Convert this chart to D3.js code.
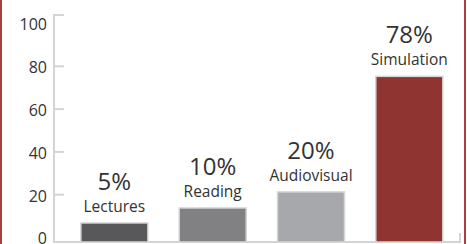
<!DOCTYPE html>
<html lang="en">
<head>
  <meta charset="UTF-8">
  <title>Learning retention</title>
  <style>
    body {
      margin: 0;
      background-color: white;
      font-family: "Open Sans", Arial, sans-serif;
    }

    .axis-line {
      stroke: #d4d4d4;
      stroke-width: 2;
      fill: none;
    }

    .tick-label {
      font-size: 16px;
      fill: #333;
      text-anchor: end;
    }

    .bar {
      stroke: #d6d6d6;
      stroke-width: 1.5;
    }

    .pct {
      font-size: 24px;
      fill: #333;
      text-anchor: middle;
    }

    .cat {
      font-size: 15.5px;
      fill: #333;
      text-anchor: middle;
    }
  </style>
</head>
<body>
  <svg id="chart" width="467" height="244"></svg>

  <script src="https://d3js.org/d3.v7.min.js"></script>
  <script>
    var categories = ["Lectures", "Reading", "Audiovisual", "Simulation"];
    var percentLabels = ["5%", "10%", "20%", "78%"];
    // bar heights as drawn in the picture (not to the printed percentages)
    var barValues = [7.5, 14.5, 22, 76];
    var barColors = ["#58585a", "#818184", "#a7a8ab", "#8f3431"];
    var tickValues = [0, 20, 40, 60, 80, 100];

    var chart = d3.select("#chart");

    var axisX = 54;
    var baseY = 242;

    var y = d3.scaleLinear()
      .domain([0, 100])
      .range([239, 25]);

    var x = d3.scaleBand()
      .domain(categories)
      .range([axisX, 460])
      .paddingInner(0.318)
      .paddingOuter(0.224)
      .align(0.61);

    // red frame at the sides
    chart.append("rect")
      .attr("x", 0).attr("y", -5)
      .attr("width", 2).attr("height", 254)
      .attr("fill", "#a8403d");
    chart.append("rect")
      .attr("x", 464).attr("y", -5)
      .attr("width", 2).attr("height", 254)
      .attr("fill", "#a8403d");

    // axis frame: left line with top cap, baseline, right end tick
    chart.append("path")
      .attr("class", "axis-line")
      .attr("d", "M" + (axisX + 10) + ",15H" + axisX + "V" + baseY + "H460V233");

    chart.selectAll(".tick-line")
      .data(tickValues.filter(function(d) { return d > 0 && d < 100; }))
      .enter().append("line")
      .attr("class", "axis-line")
      .attr("x1", axisX)
      .attr("x2", axisX + 10)
      .attr("y1", function(d) { return y(d) - 1.5; })
      .attr("y2", function(d) { return y(d) - 1.5; });

    chart.selectAll(".tick-label")
      .data(tickValues)
      .enter().append("text")
      .attr("class", "tick-label")
      .attr("x", 47)
      .attr("y", function(d) { return y(d); })
      .attr("dy", "0.34em")
      .text(function(d) { return d; });

    chart.selectAll(".bar")
      .data(barValues)
      .enter().append("rect")
      .attr("class", "bar")
      .attr("x", function(d, i) { return x(categories[i]); })
      .attr("y", function(d) { return y(d); })
      .attr("width", x.bandwidth())
      .attr("height", function(d) { return baseY - y(d); })
      .attr("fill", function(d, i) { return barColors[i]; });

    chart.selectAll(".cat")
      .data(barValues)
      .enter().append("text")
      .attr("class", "cat")
      .attr("x", function(d, i) { return x(categories[i]) + x.bandwidth() / 2; })
      .attr("y", function(d) { return y(d) - 11; })
      .text(function(d, i) { return categories[i]; });

    chart.selectAll(".pct")
      .data(barValues)
      .enter().append("text")
      .attr("class", "pct")
      .attr("x", function(d, i) { return x(categories[i]) + x.bandwidth() / 2; })
      .attr("y", function(d) { return y(d) - 33; })
      .text(function(d, i) { return percentLabels[i]; });
  </script>
</body>
</html>
